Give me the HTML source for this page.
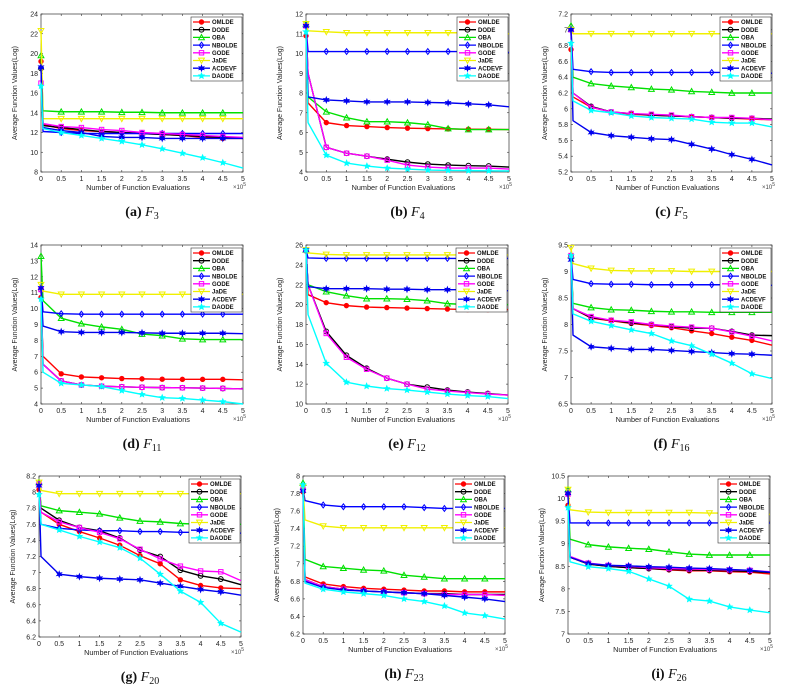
<!DOCTYPE html>
<html><head><meta charset="utf-8"><style>
html,body{margin:0;padding:0;background:#fff;}
svg{display:block;}
</style></head><body>
<svg id="fig" width="811" height="698" xmlns="http://www.w3.org/2000/svg"></svg>
<script>
const xs = [0,0.05,0.5,1,1.5,2,2.5,3,3.5,4,4.5,5];
const seriesNames = ["OMLDE","DODE","OBA","NBOLDE","GODE","JaDE","ACDEVF","DAODE"];
const seriesColors = ["#ff0000","#000000","#00e000","#0000ff","#ff00ff","#f0f000","#0000ee","#00ffff"];
const seriesMarkers = ["dot","ocircle","tri","diamond","square","dtri","star6","star"];

const a_OMLDE=[19.2,12.8,12.4,12.2,12.1,12.0,11.9,11.8,11.7,11.5,11.4,11.4];
const a_DODE=[18.5,12.7,12.5,12.3,12.1,12.0,11.9,11.8,11.7,11.6,11.5,11.4];
const a_OBA=[19.8,14.2,14.1,14.1,14.1,14.05,14.05,14.0,14.0,14.0,14.0,14.0];
const a_NBOLDE=[18.6,12.1,12.0,11.9,11.9,11.9,11.9,11.9,11.9,11.9,11.9,11.9];
const a_GODE=[17.0,12.9,12.6,12.5,12.3,12.2,12.0,11.9,11.8,11.7,11.6,11.5];
const a_JaDE=[22.3,13.4,13.4,13.4,13.4,13.4,13.4,13.4,13.4,13.4,13.4,13.4];
const a_ACDEVF=[18.6,12.5,12.2,12.0,11.6,11.5,11.5,11.4,11.4,11.4,11.4,11.4];
const a_DAODE=[16.7,12.4,12.0,11.7,11.4,11.1,10.75,10.35,9.9,9.45,8.95,8.4];

const b_OMLDE=[10.9,7.5,6.5,6.35,6.3,6.25,6.22,6.2,6.18,6.17,6.16,6.15];
const b_DODE=[11.4,9.0,5.25,4.95,4.8,4.65,4.5,4.4,4.35,4.32,4.3,4.25];
const b_OBA=[11.5,7.8,7.05,6.75,6.55,6.55,6.5,6.4,6.2,6.15,6.15,6.15];
const b_NBOLDE=[11.4,10.1,10.1,10.1,10.1,10.1,10.1,10.1,10.1,10.1,10.1,10.05];
const b_GODE=[11.4,9.0,5.25,4.95,4.8,4.6,4.35,4.25,4.2,4.2,4.2,4.15];
const b_JaDE=[11.5,11.15,11.1,11.05,11.05,11.05,11.05,11.05,11.05,11.05,11.0,11.0];
const b_ACDEVF=[11.4,7.8,7.65,7.6,7.55,7.55,7.55,7.52,7.5,7.45,7.4,7.3];
const b_DAODE=[11.1,6.5,4.85,4.45,4.3,4.2,4.15,4.1,4.08,4.07,4.06,4.05];

const c_OMLDE=[6.75,6.15,6.02,5.96,5.93,5.92,5.91,5.9,5.89,5.88,5.87,5.86];
const c_DODE=[7.0,6.2,6.03,5.96,5.94,5.92,5.91,5.9,5.89,5.88,5.88,5.87];
const c_OBA=[7.05,6.4,6.32,6.29,6.27,6.25,6.24,6.22,6.21,6.2,6.2,6.2];
const c_NBOLDE=[7.0,6.5,6.47,6.46,6.46,6.46,6.46,6.46,6.46,6.46,6.45,6.45];
const c_GODE=[7.0,6.2,6.02,5.96,5.94,5.93,5.92,5.9,5.89,5.89,5.88,5.86];
const c_JaDE=[7.0,6.95,6.95,6.95,6.95,6.95,6.95,6.95,6.95,6.95,6.95,6.95];
const c_ACDEVF=[7.0,5.85,5.7,5.66,5.64,5.62,5.61,5.55,5.49,5.42,5.36,5.29];
const c_DAODE=[6.83,6.1,5.98,5.95,5.91,5.89,5.88,5.87,5.83,5.82,5.82,5.77];

const d_OMLDE=[10.7,7.0,5.9,5.7,5.65,5.6,5.58,5.56,5.55,5.55,5.55,5.52];
const d_DODE=[11.2,6.5,5.45,5.2,5.12,5.08,5.05,5.03,5.02,5.0,4.98,4.95];
const d_OBA=[13.3,10.5,9.4,9.05,8.85,8.7,8.4,8.3,8.1,8.05,8.05,8.05];
const d_NBOLDE=[11.3,9.8,9.68,9.65,9.65,9.65,9.65,9.65,9.65,9.65,9.65,9.65];
const d_GODE=[11.2,6.5,5.45,5.2,5.12,5.08,5.05,5.03,5.02,5.0,4.98,4.95];
const d_JaDE=[11.5,11.1,10.9,10.9,10.9,10.9,10.9,10.9,10.9,10.9,10.9,10.9];
const d_ACDEVF=[11.3,8.9,8.55,8.5,8.5,8.5,8.48,8.45,8.45,8.45,8.45,8.42];
const d_DAODE=[10.6,6.0,5.3,5.2,5.1,4.85,4.6,4.4,4.35,4.25,4.15,4.0];

const e_OMLDE=[25.4,21.0,20.2,19.9,19.75,19.7,19.65,19.6,19.55,19.5,19.5,19.5];
const e_DODE=[25.5,22.0,17.3,14.9,13.6,12.6,12.0,11.7,11.4,11.2,11.05,10.9];
const e_OBA=[25.5,22.0,21.3,20.9,20.6,20.6,20.55,20.4,20.1,20.0,20.0,20.0];
const e_NBOLDE=[25.5,24.7,24.65,24.65,24.65,24.65,24.65,24.65,24.65,24.65,24.65,24.65];
const e_GODE=[25.5,22.0,17.1,14.7,13.5,12.6,12.0,11.5,11.3,11.15,11.0,10.9];
const e_JaDE=[25.5,25.2,25.05,25.0,25.0,25.0,25.0,25.0,25.0,25.0,25.0,25.0];
const e_ACDEVF=[25.5,21.8,21.6,21.6,21.6,21.55,21.55,21.5,21.5,21.5,21.45,21.4];
const e_DAODE=[25.5,19.0,14.1,12.2,11.8,11.55,11.4,11.2,11.0,10.85,10.75,10.55];

const f_OMLDE=[9.3,8.3,8.12,8.07,8.02,7.98,7.94,7.88,7.83,7.76,7.7,7.61];
const f_DODE=[9.3,8.3,8.13,8.08,8.03,8.0,7.96,7.93,7.93,7.87,7.8,7.79];
const f_OBA=[9.3,8.4,8.32,8.28,8.27,8.25,8.24,8.24,8.23,8.23,8.23,8.23];
const f_NBOLDE=[9.3,8.85,8.77,8.76,8.76,8.75,8.75,8.75,8.75,8.75,8.74,8.74];
const f_GODE=[9.3,8.3,8.15,8.08,8.05,8.0,7.97,7.95,7.93,7.86,7.78,7.69];
const f_JaDE=[9.45,9.15,9.06,9.02,9.01,9.01,9.01,9.0,9.0,9.0,9.0,9.0];
const f_ACDEVF=[9.22,7.8,7.58,7.55,7.53,7.53,7.51,7.49,7.47,7.45,7.44,7.42];
const f_DAODE=[9.3,8.2,8.06,7.98,7.9,7.83,7.69,7.6,7.44,7.27,7.07,6.98];

const g_OMLDE=[8.03,7.75,7.6,7.51,7.43,7.34,7.21,7.11,6.91,6.84,6.81,6.8];
const g_DODE=[8.1,7.8,7.65,7.56,7.52,7.43,7.28,7.2,7.03,6.96,6.92,6.85];
const g_OBA=[8.12,7.83,7.77,7.75,7.73,7.68,7.64,7.63,7.61,7.6,7.6,7.6];
const g_NBOLDE=[8.1,7.6,7.55,7.53,7.52,7.52,7.51,7.51,7.5,7.5,7.5,7.49];
const g_GODE=[8.1,7.75,7.63,7.56,7.5,7.42,7.29,7.17,7.08,7.02,7.01,6.9];
const g_JaDE=[8.12,8.02,7.98,7.98,7.98,7.98,7.98,7.98,7.98,7.98,7.98,7.98];
const g_ACDEVF=[8.08,7.2,6.98,6.95,6.93,6.92,6.91,6.87,6.83,6.79,6.76,6.72];
const g_DAODE=[7.97,7.6,7.53,7.45,7.38,7.31,7.18,6.98,6.77,6.63,6.37,6.26];

const h_OMLDE=[7.82,6.85,6.77,6.74,6.72,6.71,6.7,6.69,6.69,6.68,6.68,6.68];
const h_DODE=[7.85,6.82,6.74,6.71,6.69,6.68,6.67,6.66,6.66,6.65,6.65,6.65];
const h_OBA=[7.92,7.05,6.97,6.95,6.93,6.92,6.87,6.85,6.83,6.83,6.83,6.83];
const h_NBOLDE=[7.85,7.72,7.67,7.65,7.65,7.65,7.65,7.64,7.63,7.63,7.63,7.63];
const h_GODE=[7.85,6.82,6.74,6.71,6.69,6.68,6.67,6.66,6.65,6.65,6.65,6.64];
const h_JaDE=[7.88,7.5,7.43,7.41,7.41,7.41,7.41,7.41,7.41,7.41,7.41,7.41];
const h_ACDEVF=[7.83,6.8,6.73,6.7,6.69,6.68,6.67,6.66,6.64,6.62,6.6,6.57];
const h_DAODE=[7.9,6.78,6.71,6.68,6.66,6.64,6.6,6.57,6.52,6.44,6.41,6.37];

const i_OMLDE=[9.85,8.7,8.55,8.5,8.47,8.45,8.42,8.4,8.4,8.38,8.37,8.33];
const i_DODE=[10.1,8.7,8.55,8.5,8.47,8.45,8.43,8.42,8.41,8.4,8.39,8.36];
const i_OBA=[10.2,9.1,8.98,8.93,8.9,8.88,8.82,8.77,8.75,8.75,8.75,8.75];
const i_NBOLDE=[10.1,9.46,9.46,9.46,9.46,9.46,9.46,9.46,9.46,9.46,9.46,9.46];
const i_GODE=[10.1,8.72,8.57,8.52,8.5,8.47,8.45,8.44,8.43,8.42,8.41,8.38];
const i_JaDE=[10.2,9.75,9.7,9.69,9.69,9.69,9.69,9.69,9.68,9.68,9.67,9.65];
const i_ACDEVF=[10.12,8.7,8.56,8.52,8.51,8.49,8.48,8.46,8.45,8.43,8.41,8.37];
const i_DAODE=[9.8,8.6,8.49,8.45,8.39,8.22,8.06,7.77,7.73,7.6,7.53,7.47];

const xTicks = ["0","0.5","1","1.5","2","2.5","3","3.5","4","4.5","5"];
const a_yTicks=["8","10","12","14","16","18","20","22","24"];
const b_yTicks=["4","5","6","7","8","9","10","11","12"];
const c_yTicks=["5.2","5.4","5.6","5.8","6","6.2","6.4","6.6","6.8","7","7.2"];
const d_yTicks=["4","5","6","7","8","9","10","11","12","13","14"];
const e_yTicks=["10","12","14","16","18","20","22","24","26"];
const f_yTicks=["6.5","7","7.5","8","8.5","9","9.5"];
const g_yTicks=["6.2","6.4","6.6","6.8","7","7.2","7.4","7.6","7.8","8","8.2"];
const h_yTicks=["6.2","6.4","6.6","6.8","7","7.2","7.4","7.6","7.8","8"];
const i_yTicks=["7","7.5","8","8.5","9","9.5","10","10.5"];

const charts = [
 {id:"a",fn:"3",x0:41,x1:243,y0:14,y1:172,ymin:8,ymax:24,ticks:a_yTicks,data:[a_OMLDE,a_DODE,a_OBA,a_NBOLDE,a_GODE,a_JaDE,a_ACDEVF,a_DAODE]},
 {id:"b",fn:"4",x0:306,x1:509,y0:14,y1:172,ymin:4,ymax:12,ticks:b_yTicks,data:[b_OMLDE,b_DODE,b_OBA,b_NBOLDE,b_GODE,b_JaDE,b_ACDEVF,b_DAODE]},
 {id:"c",fn:"5",x0:571,x1:772,y0:14,y1:172,ymin:5.2,ymax:7.2,ticks:c_yTicks,data:[c_OMLDE,c_DODE,c_OBA,c_NBOLDE,c_GODE,c_JaDE,c_ACDEVF,c_DAODE]},
 {id:"d",fn:"11",x0:41,x1:243,y0:245,y1:404,ymin:4,ymax:14,ticks:d_yTicks,data:[d_OMLDE,d_DODE,d_OBA,d_NBOLDE,d_GODE,d_JaDE,d_ACDEVF,d_DAODE]},
 {id:"e",fn:"12",x0:306,x1:508,y0:245,y1:404,ymin:10,ymax:26,ticks:e_yTicks,data:[e_OMLDE,e_DODE,e_OBA,e_NBOLDE,e_GODE,e_JaDE,e_ACDEVF,e_DAODE]},
 {id:"f",fn:"16",x0:571,x1:772,y0:245,y1:404,ymin:6.5,ymax:9.5,ticks:f_yTicks,data:[f_OMLDE,f_DODE,f_OBA,f_NBOLDE,f_GODE,f_JaDE,f_ACDEVF,f_DAODE]},
 {id:"g",fn:"20",x0:39,x1:241,y0:476,y1:637,ymin:6.2,ymax:8.2,ticks:g_yTicks,data:[g_OMLDE,g_DODE,g_OBA,g_NBOLDE,g_GODE,g_JaDE,g_ACDEVF,g_DAODE]},
 {id:"h",fn:"23",x0:303,x1:505,y0:476,y1:634,ymin:6.2,ymax:8,ticks:h_yTicks,data:[h_OMLDE,h_DODE,h_OBA,h_NBOLDE,h_GODE,h_JaDE,h_ACDEVF,h_DAODE]},
 {id:"i",fn:"26",x0:568,x1:770,y0:476,y1:634,ymin:7,ymax:10.5,ticks:i_yTicks,data:[i_OMLDE,i_DODE,i_OBA,i_NBOLDE,i_GODE,i_JaDE,i_ACDEVF,i_DAODE]}
];

const NS="http://www.w3.org/2000/svg";
const fig=document.getElementById("fig");
function mk(tag,attrs,parent){const e=document.createElementNS(NS,tag);for(const k in attrs)e.setAttribute(k,attrs[k]);parent.appendChild(e);return e;}

function marker(g,type,x,y,col){
  const r=2.9;let e;
  if(type==="dot"){e=mk("circle",{cx:x,cy:y,r:2.2,fill:col,stroke:col},g);}
  else if(type==="ocircle"){e=mk("circle",{cx:x,cy:y,r:2.4,fill:"none",stroke:col,"stroke-width":1},g);}
  else if(type==="tri"){e=mk("polygon",{points:`${x},${y-r} ${x-r},${y+r*0.8} ${x+r},${y+r*0.8}`,fill:"none",stroke:col,"stroke-width":1},g);}
  else if(type==="dtri"){e=mk("polygon",{points:`${x},${y+r} ${x-r},${y-r*0.8} ${x+r},${y-r*0.8}`,fill:"none",stroke:col,"stroke-width":1},g);}
  else if(type==="diamond"){e=mk("polygon",{points:`${x},${y-r} ${x+r*0.75},${y} ${x},${y+r} ${x-r*0.75},${y}`,fill:"none",stroke:col,"stroke-width":1},g);}
  else if(type==="square"){e=mk("rect",{x:x-2.2,y:y-2.2,width:4.4,height:4.4,fill:"none",stroke:col,"stroke-width":1},g);}
  else {let p="";const n=type==="star6"?6:5;for(let k=0;k<n*2;k++){const ang=-Math.PI/2+k*Math.PI/n;const rr=k%2?r*0.5:r*1.1;p+=(x+rr*Math.cos(ang)).toFixed(2)+","+(y+rr*Math.sin(ang)).toFixed(2)+" ";}
    e=mk("polygon",{points:p,fill:col,stroke:col,"stroke-width":0.6},g);}
  
  
}

charts.forEach(c=>{
  const g=mk("g",{},fig);
  
  
  const sx=v=>c.x0+(v-0)/(5-0)*(c.x1-c.x0);
  const sy=v=>c.y1-(v-c.ymin)/(c.ymax-c.ymin)*(c.y1-c.y0);
  const frame=mk("rect",{x:c.x0,y:c.y0,width:c.x1-c.x0,height:c.y1-c.y0,fill:"#fff",stroke:"#333","stroke-width":0.7},g);
  
  
  xTicks.forEach((t,k)=>{
    const v=parseFloat(t);const x=sx(v);
    mk("line",{x1:x,x2:x,y1:c.y1,y2:c.y1-2,stroke:"#333","stroke-width":0.6},g);
    mk("line",{x1:x,x2:x,y1:c.y0,y2:c.y0+2,stroke:"#333","stroke-width":0.6},g);
    const tx=mk("text",{x:x,y:c.y1+9,"font-size":7,"text-anchor":"middle","font-family":"Liberation Sans, sans-serif",fill:"#222"},g);
    tx.textContent=t;
    
    
  });
  c.ticks.forEach(t=>{
    const v=parseFloat(t);const y=sy(v);
    mk("line",{x1:c.x0,x2:c.x0+2,y1:y,y2:y,stroke:"#333","stroke-width":0.6},g);
    mk("line",{x1:c.x1,x2:c.x1-2,y1:y,y2:y,stroke:"#333","stroke-width":0.6},g);
    const tx=mk("text",{x:c.x0-3,y:y+2.5,"font-size":7,"text-anchor":"end","font-family":"Liberation Sans, sans-serif",fill:"#222"},g);
    tx.textContent=t;
    
    
  });
  const xl=mk("text",{x:(c.x0+c.x1)/2-4,y:c.y1+18,"font-size":7.3,"text-anchor":"middle","font-family":"Liberation Sans, sans-serif",fill:"#222"},g);
  xl.textContent="Number of Function Evaluations";
  
  
  const ex=mk("text",{x:c.x1-10,y:c.y1+17,"font-size":6,"font-family":"Liberation Sans, sans-serif",fill:"#444"},g);
  ex.innerHTML='×10<tspan dy="-3" font-size="5">5</tspan>';
  
  
  const yl=mk("text",{x:0,y:0,"font-size":7,"text-anchor":"middle","font-family":"Liberation Sans, sans-serif",fill:"#222",transform:`translate(${c.x0-24},${(c.y0+c.y1)/2}) rotate(-90)`},g);
  yl.textContent="Average Function Values(Log)";
  
  
  c.data.forEach((vals,si)=>{
    const col=seriesColors[si];
    const pts=vals.map((v,k)=>sx(xs[k]).toFixed(2)+","+sy(v).toFixed(2)).join(" ");
    const pl=mk("polyline",{points:pts,fill:"none",stroke:col,"stroke-width":1.4,"stroke-linejoin":"round"},g);
    
    
    vals.forEach((v,k)=>{ if(k===1||k===11) return; marker(g,seriesMarkers[si],sx(xs[k]),sy(v),col); });
  });
  const lw=51,lh=64,lx=c.x1-lw-1,ly=c.y0+3;
  const lg=mk("g",{},g);
  
  
  mk("rect",{x:lx,y:ly,width:lw,height:lh,fill:"#fff",stroke:"#333","stroke-width":0.6},lg);
  seriesNames.forEach((n,si)=>{
    const yy=ly+5+si*7.7;
    mk("line",{x1:lx+2,x2:lx+19,y1:yy,y2:yy,stroke:seriesColors[si],"stroke-width":1.3},lg);
    marker(lg,seriesMarkers[si],lx+10.5,yy,seriesColors[si]);
    const t=mk("text",{x:lx+21,y:yy+2.2,"font-size":6,"font-weight":"bold","font-family":"Liberation Sans, sans-serif",fill:"#111"},lg);
    t.textContent=n;
    
    
  });
  const cap=mk("text",{x:(c.x0+c.x1)/2,y:c.y1+44,"font-size":14,"text-anchor":"middle","font-family":"Liberation Serif, serif",fill:"#111"},g);
  cap.innerHTML=`<tspan font-weight="bold">(${c.id})</tspan> <tspan font-style="italic">F</tspan><tspan font-size="10" dy="3">${c.fn}</tspan>`;
  
  
});
</script>
</body></html>
